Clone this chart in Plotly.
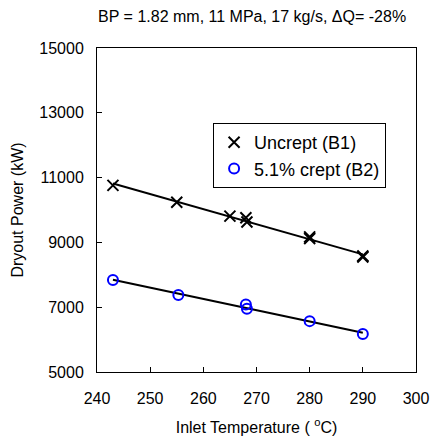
import numpy as np
import plotly.graph_objects as go

# Data
b1_temp = [243.0, 255.0, 265.0, 268.0, 268.2, 280.0, 280.0, 290.0, 290.0]
b1_power = [10760, 10240, 9810, 9760, 9630, 9170, 9120, 8580, 8550]
b2_temp = [243.0, 255.3, 268.0, 268.2, 280.0, 290.0]
b2_power = [7840, 7380, 7080, 6950, 6570, 6170]

title_text = "BP = 1.82 mm, 11 MPa, 17 kg/s, \u0394Q= -28%"
x_ticks = [240, 250, 260, 270, 280, 290, 300]
y_ticks = [5000, 7000, 9000, 11000, 13000, 15000]

FONT = "Liberation Sans, Arial, sans-serif"
FS = 16

fig = go.Figure()

# fit lines
for t, p in [(b1_temp, b1_power), (b2_temp, b2_power)]:
    c = np.polyfit(t, p, 1)
    xs = np.array([min(t), max(t)])
    fig.add_trace(go.Scatter(x=xs, y=np.polyval(c, xs), mode="lines",
                             line=dict(color="black", width=2),
                             showlegend=False, hoverinfo="skip"))

fig.add_trace(go.Scatter(x=b1_temp, y=b1_power, mode="markers", name="Uncrept (B1)",
                         marker=dict(symbol="x-thin", size=11, color="black",
                                     line=dict(color="black", width=2))))
fig.add_trace(go.Scatter(x=b2_temp, y=b2_power, mode="markers", name="5.1% crept (B2)",
                         marker=dict(symbol="circle-open", size=10, color="blue",
                                     line=dict(color="blue", width=2))))

fig.update_layout(
    width=441, height=445,
    margin=dict(l=97, r=17, t=48, b=73),
    paper_bgcolor="white", plot_bgcolor="white",
    font=dict(family=FONT, size=FS, color="black"),
    title=dict(text=title_text, x=(256 - 97) / 327, xanchor="center", xref="paper",
               y=1 - 16 / 445, yanchor="middle",
               font=dict(family=FONT, size=FS, color="black")),
    xaxis=dict(range=[240, 300], tickvals=x_ticks, ticktext=[str(v) for v in x_ticks],
               ticks="inside", ticklen=5, ticklabelstandoff=12,
               tickcolor="black", showline=True, linecolor="black", linewidth=1,
               mirror=True, showgrid=False, zeroline=False,
               title=dict(text="Inlet Temperature ( <sup>o</sup>C)", standoff=15,
                          font=dict(family=FONT, size=FS))),
    yaxis=dict(range=[5000, 15000], tickvals=y_ticks, ticktext=[str(v) for v in y_ticks],
               ticks="inside", ticklen=5, ticklabelstandoff=9,
               tickcolor="black", showline=True, linecolor="black", linewidth=1,
               mirror=True, showgrid=False, zeroline=False,
               title=dict(text="Dryout Power (kW)", standoff=11,
                          font=dict(family=FONT, size=FS))),
    legend=dict(x=(216 - 97) / 327, y=(372 - 123) / 324,
                xanchor="left", yanchor="top",
                bordercolor="black", borderwidth=1, bgcolor="white",
                font=dict(family=FONT, size=18), itemwidth=30,
                tracegroupgap=4),
)

fig.write_html("out.html")
